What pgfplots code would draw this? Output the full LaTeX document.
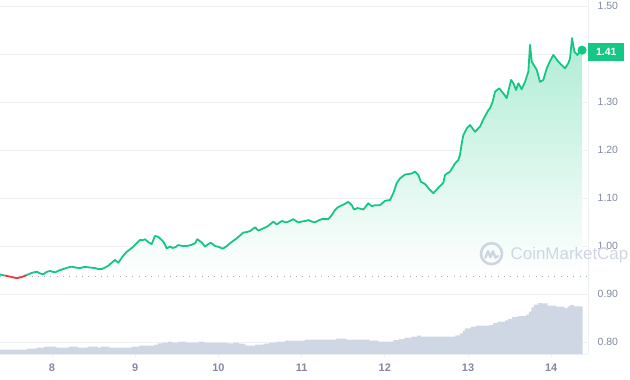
\documentclass[border=0pt]{standalone}
\usepackage{fontspec}
\setmainfont{Liberation Sans}
\usepackage{pgfplots}
\pgfplotsset{compat=1.18}
\usepackage{pgfplotstable}
\definecolor{cmcgreen}{HTML}{16C784}
\definecolor{cmcred}{HTML}{EA3943}
\definecolor{gridc}{HTML}{EFF2F5}
\definecolor{labc}{HTML}{808A9D}
\definecolor{volc}{HTML}{CFD6E4}
\definecolor{wm}{HTML}{D0D6E1}
\definecolor{dotc}{HTML}{A6B0C3}

\pgfplotstableread{
d p
7.375 0.9405
7.430 0.9385
}\startg
\pgfplotstableread{
d p
7.430 0.9385
7.500 0.9360
7.576 0.9330
7.640 0.9355
7.696 0.9396
}\redseg
\pgfplotstableread{
d p
7.696 0.9396
7.756 0.9440
7.816 0.9465
7.855 0.9430
7.895 0.9410
7.936 0.9460
7.976 0.9480
8.036 0.9450
8.086 0.9490
8.136 0.9520
8.187 0.9550
8.237 0.9570
8.287 0.9550
8.337 0.9540
8.377 0.9560
8.417 0.9560
8.467 0.9550
8.517 0.9540
8.557 0.9520
8.597 0.9520
8.637 0.9550
8.677 0.9590
8.717 0.9650
8.757 0.9710
8.797 0.9650
8.848 0.9780
8.898 0.9880
8.937 0.9930
8.977 0.9986
9.018 1.0060
9.058 1.0125
9.088 1.0120
9.118 1.0140
9.158 1.0080
9.198 1.0040
9.238 1.0210
9.278 1.0190
9.308 1.0140
9.338 1.0090
9.379 0.9950
9.418 0.9990
9.448 0.9960
9.478 0.9970
9.518 1.0020
9.569 1.0000
9.619 1.0000
9.669 1.0020
9.719 1.0056
9.746 1.0140
9.799 1.0076
9.839 0.9986
9.872 1.0030
9.907 1.0070
9.959 1.0000
10.006 0.9980
10.052 0.9944
10.095 0.9990
10.139 1.0056
10.180 1.0110
10.220 1.0160
10.260 1.0220
10.299 1.0280
10.340 1.0290
10.380 1.0310
10.440 1.0390
10.480 1.0320
10.530 1.0360
10.581 1.0400
10.620 1.0450
10.660 1.0507
10.701 1.0450
10.761 1.0520
10.821 1.0490
10.900 1.0560
10.960 1.0490
11.000 1.0510
11.041 1.0520
11.081 1.0540
11.121 1.0510
11.161 1.0493
11.200 1.0530
11.242 1.0560
11.321 1.0560
11.361 1.0640
11.401 1.0750
11.432 1.0800
11.462 1.0830
11.511 1.0870
11.561 1.0920
11.602 1.0850
11.630 1.0760
11.670 1.0790
11.702 1.0780
11.742 1.0760
11.802 1.0890
11.843 1.0830
11.882 1.0850
11.942 1.0850
12.002 1.0940
12.063 1.0960
12.102 1.1100
12.143 1.1310
12.183 1.1410
12.243 1.1490
12.283 1.1500
12.323 1.1510
12.363 1.1550
12.403 1.1480
12.432 1.1340
12.483 1.1290
12.543 1.1167
12.583 1.1100
12.643 1.1210
12.703 1.1320
12.724 1.1480
12.784 1.1550
12.844 1.1720
12.883 1.1790
12.904 1.1900
12.924 1.2140
12.944 1.2310
12.984 1.2450
13.024 1.2520
13.084 1.2380
13.144 1.2486
13.184 1.2640
13.244 1.2830
13.264 1.2870
13.295 1.3000
13.325 1.3215
13.376 1.3285
13.424 1.3180
13.465 1.3080
13.517 1.3460
13.545 1.3390
13.577 1.3250
13.605 1.3390
13.645 1.3265
13.685 1.3420
13.725 1.3630
13.745 1.4190
13.766 1.3840
13.826 1.3670
13.865 1.3420
13.905 1.3460
13.946 1.3700
13.985 1.3850
14.025 1.3980
14.085 1.3840
14.166 1.3700
14.206 1.3810
14.226 1.3910
14.250 1.4330
14.278 1.4050
14.314 1.3980
14.346 1.4050
14.370 1.4080
}\price
\pgfplotstableread{
d h
7.375 4.33
7.701 5.33
7.818 6.33
7.909 7.33
8.054 6.33
8.203 7.33
8.311 6.33
8.429 7.33
8.551 6.33
8.587 7.33
8.687 6.33
8.958 7.33
9.049 8.33
9.230 9.33
9.275 10.67
9.329 11.33
9.397 12.33
9.447 11.33
9.515 12.33
9.614 11.33
9.759 12.33
9.831 11.33
10.112 10.67
10.180 11.33
10.247 10.33
10.315 9.33
10.338 8.33
10.442 9.33
10.542 10.33
10.609 11.33
10.700 12.33
10.799 13.33
11.039 14.33
11.415 15.33
11.537 14.33
11.817 13.33
11.926 12.33
12.102 14.00
12.170 15.00
12.238 16.33
12.319 17.33
12.387 18.33
12.433 17.33
12.849 18.67
12.903 20.67
12.939 23.33
12.962 25.67
13.030 27.33
13.097 28.33
13.256 29.00
13.301 31.00
13.355 32.33
13.446 33.67
13.482 35.00
13.527 37.00
13.595 38.00
13.699 39.33
13.731 42.33
13.762 46.67
13.789 49.33
13.844 51.00
13.889 50.67
13.957 48.33
14.061 47.33
14.160 46.00
14.197 47.67
14.228 49.00
14.273 47.67
14.378 47.67
}\vol

\begin{document}
\begin{tikzpicture}
\useasboundingbox (0,0) rectangle (630bp,-380bp);
\begin{axis}[
  at={(0,0)}, anchor=north west,
  scale only axis, width=588bp, height=354bp,
  xmin=7.375, xmax=14.442, ymin=0.775, ymax=1.5125,
  clip=false,
  axis line style={draw=none},
  ymajorgrids, grid style={gridc, line width=0.8bp},
  xtick={8,9,10,11,12,13,14},
  xticklabels={8,9,10,11,12,13,14},
  ytick={0.8,0.9,1.0,1.1,1.2,1.3,1.4,1.5},
  yticklabels={0.80,0.90,1.00,1.10,1.20,1.30,,1.50},
  xtick pos=bottom, ytick pos=right, yticklabel pos=right,
  tick align=outside,
  major tick length=4bp,
  xtick style={draw=gridc, line width=0.8bp},
  ytick style={draw=none},
  xticklabel style={font=\fontsize{11}{12}\selectfont\bfseries, text=labc, yshift=-2.5bp},
  yticklabel style={font=\fontsize{10.5}{12}\selectfont, text=labc, anchor=west, inner sep=0pt, xshift=5.5bp},
]
\draw[gridc, line width=0.8bp] (rel axis cs:1,0) -- (rel axis cs:1,1);
\draw[gridc, line width=0.8bp] (rel axis cs:0,0) -- (rel axis cs:1,0);
\addplot[draw=none, top color=cmcgreen!34, bottom color=white] table[x=d,y=p] {\price}
  -- (axis cs:14.37,0.9375) -- (axis cs:7.696,0.9375) -- cycle;
\addplot[dotc, line width=1bp, dash pattern=on 1bp off 5.3bp] coordinates {(7.375,0.9375) (14.442,0.9375)};
% watermark
\draw[wm, line width=2.6bp] (axis cs:13.282,0.984) circle[radius=10.5bp];
\draw[wm, line width=2.4bp, line join=round, line cap=round]
  ([xshift=-6bp,yshift=-4bp]axis cs:13.282,0.984) -- ++(2.5bp,6.5bp) -- ++(2.5bp,-6bp) -- ++(2.5bp,6bp) -- ++(2.5bp,-6.5bp) -- ++(2.5bp,1.5bp);
\node[wm, font=\fontsize{17}{18}\selectfont, anchor=west, inner sep=0pt] at (axis cs:13.510,0.982) {CoinMarketCap};
% price line
\addplot[cmcgreen, line width=1.8bp, line join=round] table[x=d,y=p] {\startg};
\addplot[cmcred, line width=1.8bp, line join=round] table[x=d,y=p] {\redseg};
\addplot[cmcgreen, line width=1.8bp, line join=round] table[x=d,y=p] {\price};
\addplot[only marks, mark=*, mark size=4.3bp, cmcgreen] coordinates {(14.37,1.408)};
\node[fill=cmcgreen, text=white, font=\fontsize{10.5}{12}\selectfont\bfseries, anchor=west, minimum width=36bp, minimum height=18bp, inner sep=0pt] at (axis cs:14.442,1.405) {1.41};
\end{axis}
\begin{axis}[
  at={(0,0)}, anchor=north west,
  scale only axis, width=588bp, height=354bp,
  xmin=7.375, xmax=14.442, ymin=0, ymax=354,
  hide axis,
]
\addplot[const plot, draw=none, fill=volc] table[x=d,y=h] {\vol} \closedcycle;
\end{axis}
\end{tikzpicture}
\end{document}
